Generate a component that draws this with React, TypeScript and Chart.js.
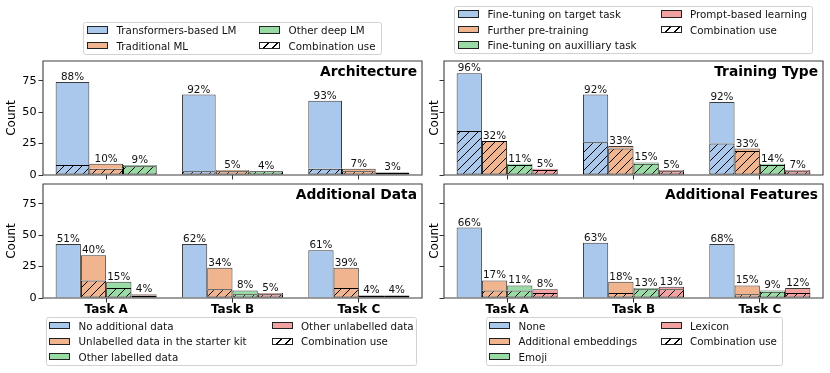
import React, { useEffect, useRef } from 'react';
import { Chart, registerables } from 'chart.js';

Chart.register(...registerables);

const FONT = '"DejaVu Sans", "Liberation Sans", sans-serif';

// ---------- data ----------
const tasks = ['Task A', 'Task B', 'Task C'];
const yTickValues = [0, 25, 50, 75];
const yMax = 90.7;
const comboLabel = 'Combination use';

const archTitle = 'Architecture';
const archNames = ['Transformers-based LM', 'Traditional ML', 'Other deep LM'];
const archTotals = [[74, 64, 59], [9, 4, 5], [8, 3, 2]];
const archCombo = [[8, 3, 5], [5, 3, 3], [7, 3, 2]];
const archPct = [[88, 92, 93], [10, 5, 7], [9, 4, 3]];

const trainTitle = 'Training Type';
const trainNames = ['Fine-tuning on target task', 'Further pre-training', 'Fine-tuning on auxilliary task', 'Prompt-based learning'];
const trainTotals = [[81, 64, 58], [27, 23, 21], [9, 10, 9], [5, 4, 4]];
const trainCombo = [[35, 26, 25], [27, 21, 19], [8, 9, 8], [4, 3, 3]];
const trainPct = [[96, 92, 92], [32, 33, 33], [11, 15, 14], [5, 5, 7]];

const dataTitle = 'Additional Data';
const dataNames = ['No additional data', 'Unlabelled data in the starter kit', 'Other labelled data', 'Other unlabelled data'];
const dataTotals = [[43, 43, 38], [34, 24, 24], [13, 6, 2], [3, 4, 2]];
const dataCombo = [[0, 0, 0], [14, 7, 8], [8, 3, 2], [2, 3, 2]];
const dataPct = [[51, 62, 61], [40, 34, 39], [15, 8, 4], [4, 5, 4]];

const featTitle = 'Additional Features';
const featNames = ['None', 'Additional embeddings', 'Emoji', 'Lexicon'];
const featTotals = [[56, 44, 43], [14, 13, 10], [10, 8, 6], [7, 9, 8]];
const featCombo = [[0, 0, 0], [6, 4, 3], [6, 7, 5], [4, 7, 4]];
const featPct = [[66, 63, 68], [17, 18, 15], [11, 13, 9], [8, 13, 12]];

// ---------- styles ----------
const palette = ['#aac8ec', '#f0b48e', '#98dba5', '#f2a3a1'];
const HATCH = 9;

function makeHatch(ctx: CanvasRenderingContext2D, color: string): CanvasPattern {
  const c = document.createElement('canvas');
  c.width = HATCH;
  c.height = HATCH;
  const g = c.getContext('2d')!;
  g.fillStyle = color;
  g.fillRect(0, 0, HATCH, HATCH);
  g.strokeStyle = '#000';
  g.lineWidth = 1;
  g.beginPath();
  g.moveTo(0, HATCH);
  g.lineTo(HATCH, 0);
  g.moveTo(-2, 2);
  g.lineTo(2, -2);
  g.moveTo(HATCH - 2, HATCH + 2);
  g.lineTo(HATCH + 2, HATCH - 2);
  g.stroke();
  return ctx.createPattern(c, 'repeat')!;
}

type PanelProps = {
  title: string;
  names: string[];
  totals: number[][];
  combos: number[][];
  pcts: number[][];
  left: number;
  top: number;
  width: number;
  height: number;
  axisW: number;
  padTop: number;
  padRight: number;
  xAxisH: number;
  showX: boolean;
  showY: boolean;
  countPad: number;
};

function Panel(p: PanelProps) {
  const ref = useRef<HTMLCanvasElement>(null);
  useEffect(() => {
    const canvas = ref.current!;
    const ctx = canvas.getContext('2d')!;
    const datasets: any[] = [];
    p.names.forEach((name, i) => {
      const color = palette[i];
      datasets.push({
        label: name + ' (' + comboLabel + ')',
        data: p.combos[i].map((v) => (v > 0 ? v : null)),
        backgroundColor: makeHatch(ctx, color),
        borderColor: '#000',
        borderWidth: 1,
        borderSkipped: false,
        stack: 'g' + i,
      });
      datasets.push({
        label: name,
        data: p.totals[i].map((t, j) => (t - p.combos[i][j] > 0 ? t - p.combos[i][j] : null)),
        backgroundColor: color,
        borderColor: '#3a3a3a',
        borderWidth: 1,
        borderSkipped: 'bottom',
        stack: 'g' + i,
      });
    });

    const overlay = {
      id: 'overlay',
      afterDatasetsDraw(chart: any) {
        const { ctx: c, chartArea: a, scales } = chart;
        c.save();
        c.strokeStyle = '#3c3c3c';
        c.lineWidth = 1.1;
        c.beginPath();
        c.moveTo(a.left, a.top);
        c.lineTo(a.right, a.top);
        c.lineTo(a.right, a.bottom);
        c.lineTo(a.left, a.bottom);
        c.closePath();
        c.stroke();
        c.fillStyle = '#111';
        c.font = '10.4px ' + FONT;
        c.textAlign = 'center';
        c.textBaseline = 'alphabetic';
        p.names.forEach((_, i) => {
          const meta = chart.getDatasetMeta(2 * i);
          p.totals[i].forEach((t, j) => {
            const el = meta.data[j];
            const y = scales.y.getPixelForValue(t);
            c.fillText(p.pcts[i][j] + '%', el.x, y - 2);
          });
        });
        c.font = 'bold 13.8px ' + FONT;
        c.textAlign = 'right';
        c.fillStyle = '#000';
        c.fillText(p.title, a.right - 5, a.top + 15);
        c.restore();
      },
    };

    const tickGrid = {
      display: true,
      drawOnChartArea: false,
      drawTicks: true,
      tickLength: 4.5,
      color: '#333',
      lineWidth: 1,
    };

    const chart = new Chart(canvas, {
      type: 'bar',
      data: { labels: tasks, datasets },
      plugins: [overlay],
      options: {
        animation: false,
        responsive: false,
        devicePixelRatio: 1,
        layout: { padding: { top: p.padTop, left: 0, right: p.padRight, bottom: 0 } },
        datasets: { bar: { categoryPercentage: 0.8, barPercentage: 1 } } as any,
        plugins: { legend: { display: false }, tooltip: { enabled: false } },
        scales: {
          x: {
            stacked: true,
            grid: { ...tickGrid, offset: false },
            border: { display: false },
            ticks: {
              display: p.showX,
              color: '#000',
              padding: 0.5,
              font: { family: FONT, size: 12, weight: 'bold' },
            },
            afterFit(s: any) {
              s.height = p.xAxisH;
              s.paddingLeft = 0;
              s.paddingRight = 0;
            },
          },
          y: {
            stacked: true,
            min: 0,
            max: yMax,
            grid: tickGrid,
            border: { display: false },
            ticks: {
              display: p.showY,
              color: '#000',
              padding: 2,
              includeBounds: false,
              font: { family: FONT, size: 11.2 },
            },
            afterBuildTicks(s: any) {
              s.ticks = yTickValues.map((v) => ({ value: v }));
            },
            title: {
              display: true,
              text: 'Count',
              color: '#000',
              font: { family: FONT, size: 12 },
              padding: { top: p.countPad, bottom: 0 },
            },
            afterFit(s: any) {
              s.width = p.axisW;
              s.paddingTop = 0;
              s.paddingBottom = 0;
            },
          },
        },
      } as any,
    });
    return () => chart.destroy();
  }, []);
  return (
    <canvas
      ref={ref}
      width={p.width}
      height={p.height}
      style={{ position: 'absolute', left: p.left, top: p.top, width: p.width, height: p.height }}
    />
  );
}

const hatchCss =
  'repeating-linear-gradient(135deg, #fff 0px, #fff 5.4px, #000 5.4px, #000 6.4px)';

function Legend({ names, left, top, width, colX }: { names: string[]; left: number; top: number; width: number; colX: number[] }) {
  const items = [
    ...names.map((n, i) => ({ label: n, color: palette[i], hatch: false })),
    { label: comboLabel, color: '#fff', hatch: true },
  ];
  const rows = Math.ceil(items.length / 2);
  const rowH = 15.5;
  const first = 8.4;
  const height = (rows - 1) * rowH + 17.8;
  return (
    <div
      style={{
        position: 'absolute',
        left,
        top,
        width,
        height,
        boxSizing: 'border-box',
        border: '1px solid #d2d2d2',
        borderRadius: 2.5,
        background: 'rgba(255,255,255,0.85)',
      }}
    >
      {items.map((it, k) => {
        const col = Math.floor(k / rows);
        const row = k % rows;
        const cy = first + row * rowH - 1;
        const sx = colX[col] - 1;
        return (
          <React.Fragment key={k}>
            <div
              style={{
                position: 'absolute',
                left: sx,
                top: cy - 3.65,
                width: 21,
                height: 7.3,
                boxSizing: 'border-box',
                border: '1px solid #222',
                background: it.hatch ? hatchCss : it.color,
              }}
            />
            <div
              style={{
                position: 'absolute',
                left: sx + 29.3,
                top: cy - 7,
                height: 14,
                lineHeight: '14px',
                fontSize: 10.3,
                whiteSpace: 'nowrap',
                color: '#111',
                fontFamily: FONT,
              }}
            >
              {it.label}
            </div>
          </React.Fragment>
        );
      })}
    </div>
  );
}

export default function App() {
  return (
    <div
      style={{
        position: 'absolute',
        left: 0,
        top: 0,
        width: 830,
        height: 373,
        background: '#fff',
        overflow: 'hidden',
        fontFamily: FONT,
      }}
    >
      <Panel title={archTitle} names={archNames} totals={archTotals} combos={archCombo} pcts={archPct}
        left={0} top={50} width={424} height={130} axisW={43} padTop={11} padRight={2} xAxisH={5} showX={false} showY={true} countPad={4.8} />
      <Panel title={trainTitle} names={trainNames} totals={trainTotals} combos={trainCombo} pcts={trainPct}
        left={425} top={50} width={400} height={130} axisW={19} padTop={11} padRight={2} xAxisH={5} showX={false} showY={false} countPad={2.8} />
      <Panel title={dataTitle} names={dataNames} totals={dataTotals} combos={dataCombo} pcts={dataPct}
        left={0} top={180} width={424} height={138} axisW={43} padTop={4} padRight={2} xAxisH={20} showX={true} showY={true} countPad={4.8} />
      <Panel title={featTitle} names={featNames} totals={featTotals} combos={featCombo} pcts={featPct}
        left={425} top={180} width={400} height={138} axisW={19} padTop={4} padRight={2} xAxisH={20} showX={true} showY={false} countPad={2.8} />
      <Legend names={archNames} left={83.3} top={21.7} width={298.4} colX={[4, 176]} />
      <Legend names={trainNames} left={454.3} top={5.7} width={359} colX={[4, 206.4]} />
      <Legend names={dataNames} left={45.7} top={317.3} width={371.8} colX={[3.6, 226]} />
      <Legend names={featNames} left={485.7} top={317.3} width={297} colX={[3.6, 175]} />
    </div>
  );
}
